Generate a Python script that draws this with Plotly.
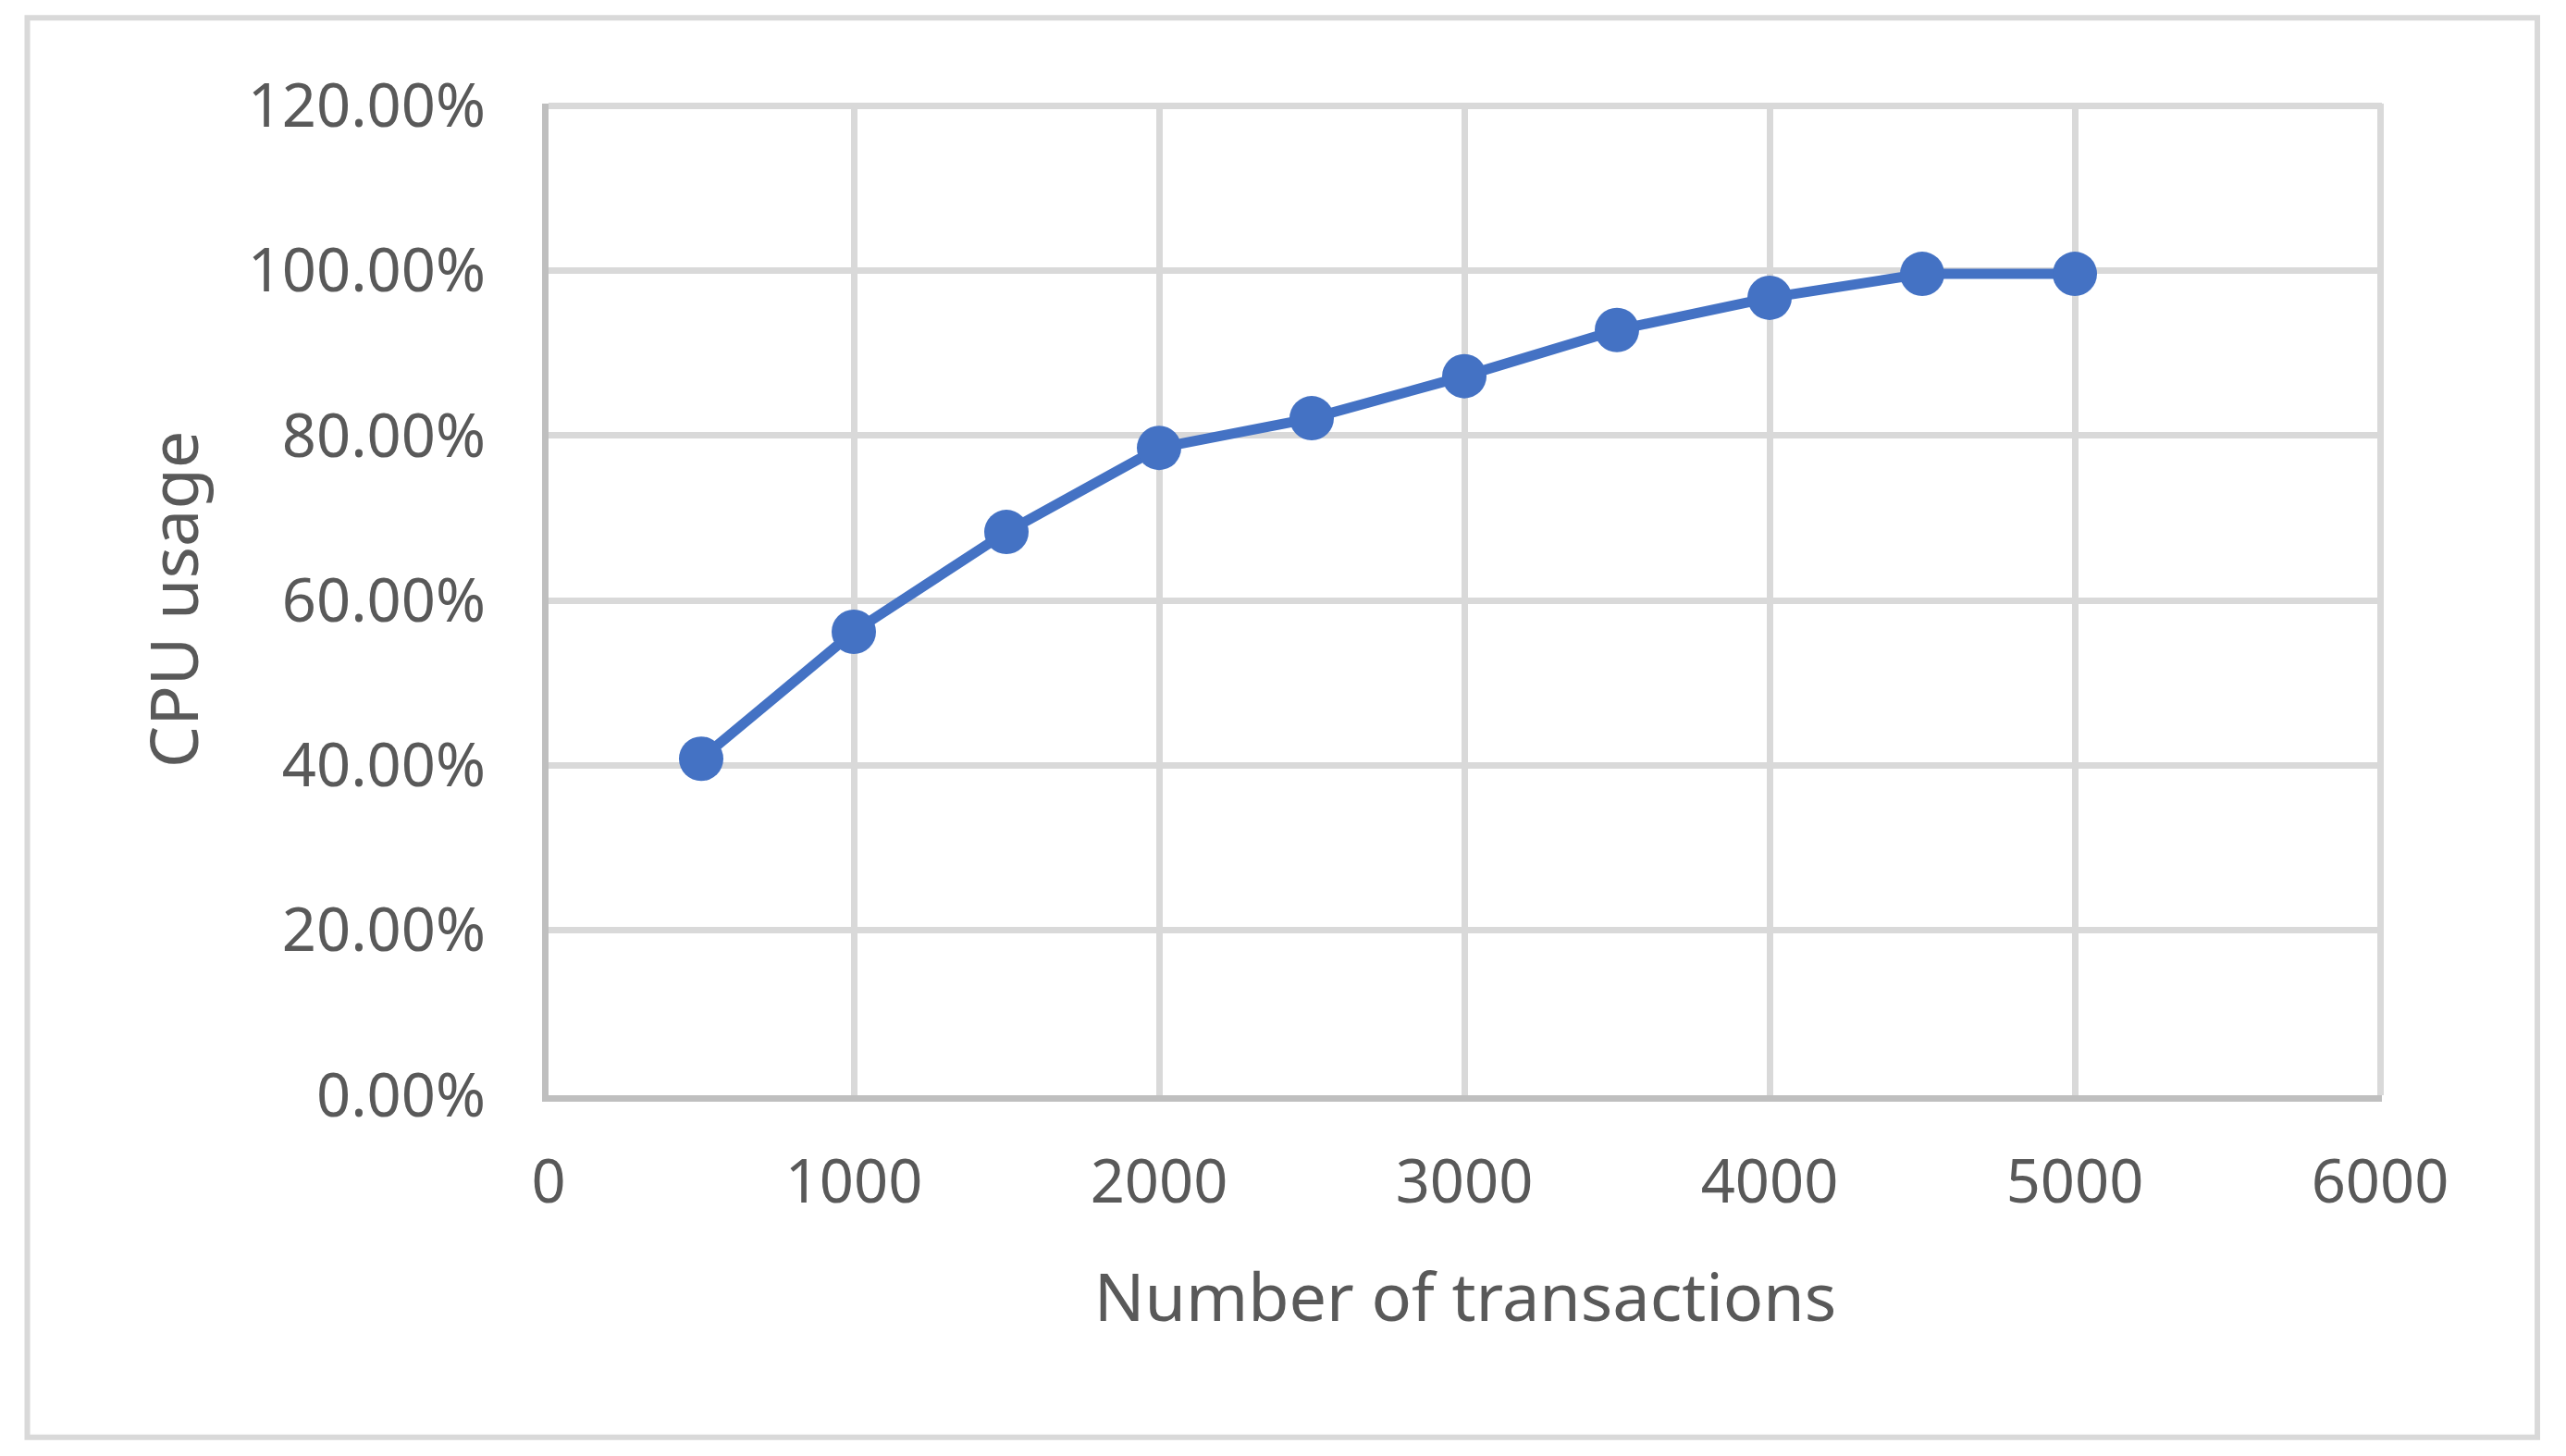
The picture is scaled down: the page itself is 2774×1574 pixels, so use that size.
import plotly.graph_objects as go

# CPU usage vs. number of transactions
transactions = [500, 1000, 1500, 2000, 2500, 3000, 3500, 4000, 4500, 5000]
cpu_usage = [0.408, 0.562, 0.683, 0.785, 0.821, 0.872, 0.928, 0.967, 0.996, 0.996]

x_title = "Number of transactions"
y_title = "CPU usage"

TEXT = "#595959"
GRID = "#d9d9d9"
AXIS = "#bfbfbf"
BLUE = "#4472c4"
FONT = "Noto Sans"

fig = go.Figure()
fig.add_trace(go.Scatter(
    x=transactions, y=cpu_usage,
    mode="lines+markers",
    line=dict(color=BLUE, width=11),
    marker=dict(color=BLUE, size=48),
    showlegend=False,
))

# ranges padded a hair so the last gridlines (6000, 120%) are still drawn
fig.update_xaxes(
    range=[0, 6006], dtick=1000, tickformat="d",
    showgrid=True, gridcolor=GRID, gridwidth=7,
    showline=True, linecolor=AXIS, linewidth=7,
    zeroline=False, ticks="", ticklabelstandoff=31,
    tickfont=dict(family=FONT, size=65, color=TEXT),
    title=dict(text=x_title, standoff=62,
               font=dict(family=FONT, size=72, color=TEXT)),
)
fig.update_yaxes(
    range=[0, 1.2025], dtick=0.2, tickformat=".2%",
    showgrid=True, gridcolor=GRID, gridwidth=7,
    showline=True, linecolor=AXIS, linewidth=7,
    zeroline=False, ticks="", ticklabelstandoff=48,
    tickfont=dict(family=FONT, size=65, color=TEXT),
    title=dict(text=y_title, standoff=32,
               font=dict(family=FONT, size=72, color=TEXT)),
)

# outer chart border (paper coords relative to plot area)
fig.add_shape(type="rect", xref="paper", yref="paper",
              x0=-0.2843, x1=1.0848, y0=-0.3449, y1=1.0865,
              line=dict(color=GRID, width=6), layer="below")

fig.update_layout(
    width=2766, height=1566,
    margin=dict(l=585, r=199, t=104, b=390),
    plot_bgcolor="white", paper_bgcolor="white",
    font=dict(family=FONT, color=TEXT),
)

fig.write_html("out.html")
